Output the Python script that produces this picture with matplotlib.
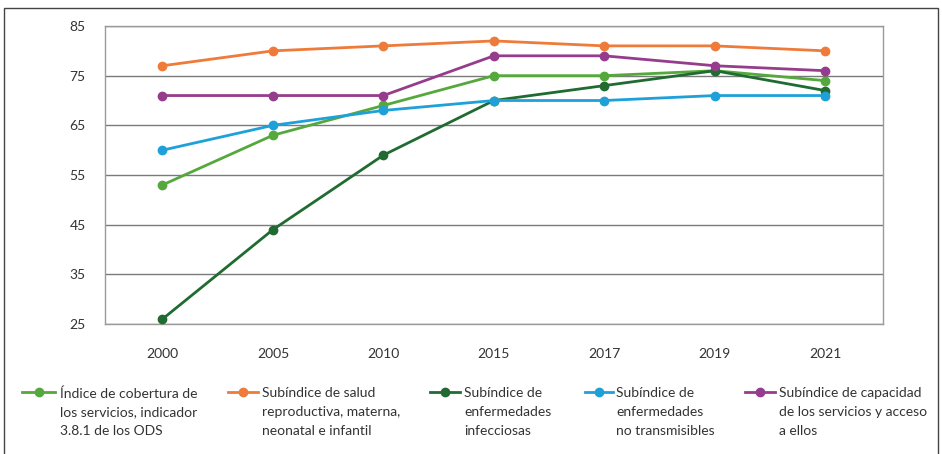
import matplotlib.pyplot as plt
from matplotlib.lines import Line2D
from matplotlib.patches import Rectangle

# Data -------------------------------------------------------------------------

years = ["2000", "2005", "2010", "2015", "2017", "2019", "2021"]

cobertura = [53, 63, 69, 75, 75, 76, 74]
salud_reproductiva = [77, 80, 81, 82, 81, 81, 80]
infecciosas = [26, 44, 59, 70, 73, 76, 72]
no_transmisibles = [60, 65, 68, 70, 70, 71, 71]
capacidad = [71, 71, 71, 79, 79, 77, 76]

labels = [
    "Índice de cobertura de\nlos servicios, indicador\n3.8.1 de los ODS",
    "Subíndice de salud\nreproductiva, materna,\nneonatal e infantil",
    "Subíndice de\nenfermedades\ninfecciosas",
    "Subíndice de\nenfermedades\nno transmisibles",
    "Subíndice de capacidad\nde los servicios y acceso\na ellos",
]
colors = ["#55a83c", "#ee7b3a", "#1f6b31", "#1ea1d9", "#963c8d"]
series = [cobertura, salud_reproductiva, infecciosas, no_transmisibles, capacidad]

# Plot -------------------------------------------------------------------------

plt.rcParams["font.family"] = ["Lato", "DejaVu Sans"]

W, H = 942, 454
fig = plt.figure(figsize=(W / 100, H / 100), dpi=100)
ax = fig.add_axes([0.1115, 0.2863, 0.8255, 0.6564])

x = range(len(years))
# draw in an order so that the upper lines sit on top like the original
order = [2, 3, 0, 4, 1]
for i in order:
    ax.plot(x, series[i], color=colors[i], lw=2, marker="o", ms=6, zorder=3 + i)

ax.set_xlim(-0.52, 6.52)
ax.set_ylim(25, 85)
ax.set_yticks(range(25, 86, 10))
ax.set_xticks(list(x))
ax.set_xticklabels(years)
ax.tick_params(length=0, labelsize=10, colors="#333333")
ax.tick_params(axis="x", pad=17)
ax.tick_params(axis="y", pad=14)
ax.yaxis.grid(True, color="#7a7a7a", lw=1)
ax.set_axisbelow(True)
for s in ax.spines.values():
    s.set_color("#9a9a9a")
    s.set_linewidth(1)

# outer frame
fig.add_artist(Rectangle((0.004, -0.01), 0.992, 0.993, transform=fig.transFigure,
                         fill=False, edgecolor="#444444", lw=1))

# legend drawn by hand (pixel positions of handle start/end and text)
handle_x = [(22, 55), (228, 258), (430, 460), (585, 613), (745, 775)]
text_x = [60, 262, 464, 616, 779]
handle_y = 392
text_top = 387
for i in range(len(series)):
    x0, x1 = handle_x[i]
    h = Line2D([x0 / W, (x0 + x1) / 2 / W, x1 / W], [1 - handle_y / H] * 3,
               color=colors[i], lw=2, marker="o", ms=6, markevery=[1],
               transform=fig.transFigure)
    fig.add_artist(h)
    fig.text(text_x[i] / W, 1 - text_top / H, labels[i], va="top", ha="left",
             fontsize=10, color="#333333", linespacing=1.68)

fig.savefig("out.png", dpi=100)
